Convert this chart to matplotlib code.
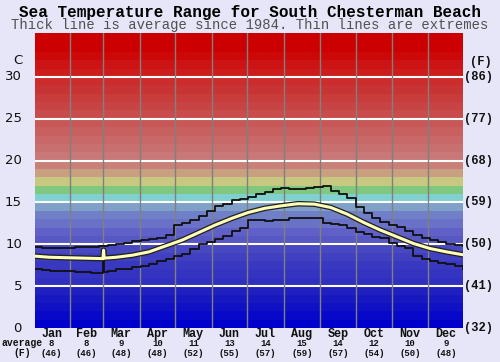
import matplotlib
matplotlib.use('Agg')
import matplotlib.pyplot as plt
import matplotlib.patheffects as pe
from matplotlib.transforms import blended_transform_factory

# --- data (deg C, x = day of year) ---
months = ['Jan', 'Feb', 'Mar', 'Apr', 'May', 'Jun',
          'Jul', 'Aug', 'Sep', 'Oct', 'Nov', 'Dec']
month_avg_c = [8, 8, 9, 10, 11, 13, 14, 15, 14, 12, 10, 9]
month_avg_f = [46, 46, 48, 48, 52, 55, 57, 59, 57, 54, 50, 48]
month_len = [31, 28, 31, 30, 31, 30, 31, 31, 30, 31, 30, 31]

mean_days = [0, 14, 28, 42, 56, 59, 59.5, 60, 70, 84, 98, 112, 126, 140,
             154, 168, 182, 196, 210, 224, 238, 252, 266, 280, 294, 308,
             322, 336, 350, 364]
mean_vals = [8.6, 8.45, 8.4, 8.35, 8.3, 8.3, 9.3, 8.35, 8.45, 8.7, 9.1, 9.8,
             10.5, 11.4, 12.3, 13.1, 13.8, 14.3, 14.6, 14.85, 14.8, 14.4,
             13.6, 12.6, 11.7, 10.9, 10.1, 9.5, 9.1, 8.75]

max_days = list(range(0, 365, 7))
max_vals = [9.7, 9.5, 9.6, 9.6, 9.6, 9.7, 9.7, 9.7, 9.8, 9.9, 10.0, 10.2,
            10.4, 10.5, 10.6, 10.8, 11.1, 12.3, 12.6, 12.9, 13.4, 14.0,
            14.6, 14.8, 15.3, 15.4, 15.6, 16.0, 16.3, 16.6, 16.7, 16.6,
            16.6, 16.7, 16.8, 17.0, 16.4, 16.0, 15.5, 14.5, 13.8, 13.1,
            12.7, 12.3, 12.1, 11.6, 11.1, 10.8, 10.5, 10.3, 10.0, 9.9, 9.8]

min_days = [0, 7, 14, 21, 28, 35, 42, 49, 56, 59, 60, 63, 70, 77, 84, 91,
            98, 105, 112, 119, 126, 133, 140, 147, 154, 161, 168, 175, 182,
            189, 196, 203, 210, 217, 224, 231, 238, 245, 252, 259, 266, 273,
            280, 287, 294, 301, 308, 315, 322, 329, 336, 343, 350, 357, 364]
min_vals = [7.05, 6.9, 6.85, 6.8, 6.8, 6.7, 6.65, 6.6, 6.6, 9.1, 6.7, 6.85,
            7.0, 7.1, 7.3, 7.45, 7.6, 8.0, 8.3, 8.6, 8.9, 9.4, 10.0, 10.3,
            10.6, 11.0, 11.6, 12.0, 12.9, 12.9, 12.8, 12.9, 12.9, 13.1, 13.2,
            13.2, 13.1, 12.5, 12.4, 12.3, 11.9, 11.5, 11.2, 10.9, 10.7, 10.2,
            9.8, 9.6, 8.6, 8.2, 7.95, 7.8, 7.6, 7.4, 7.1]

c_ticks = [0, 5, 10, 15, 20, 25, 30]

# one colour per 1 degree band, 0..35
band_colors = ['#0000cc', '#0808c8', '#1010c4', '#1818c0', '#2020c0',
               '#3030c0', '#3434c0', '#3838c0', '#4040c0', '#4848c0',
               '#5858c4', '#6060c8', '#6a72c8', '#7080c8', '#80a0c8',
               '#80d0d0', '#80c880', '#c8c880', '#c8a080', '#c88078',
               '#c87878', '#c87070', '#c86868', '#c86060', '#c85858',
               '#c84c4c', '#c84444', '#c83c3c', '#c83434', '#cc2c2c',
               '#cc1c1c', '#cc1414', '#cc0808', '#cc0000', '#cc0000',
               '#cc0000']

W, H = 500, 362
bg = '#e6e6f8'
mono = 'Liberation Mono'
ink = '#111111'

fig = plt.figure(figsize=(W / 100, H / 100), dpi=100, facecolor=bg)
ax = fig.add_axes([35 / W, 1 - 328 / H, 428 / W, 295 / H])

for i, col in enumerate(band_colors):
    ax.axhspan(i, i + 1, color=col, lw=0, zorder=0)

for c in c_ticks[1:]:
    ax.axhline(c, color='white', lw=1.5, zorder=1)

starts = [sum(month_len[:i]) for i in range(12)]
for s in starts[1:]:
    ax.axvline(s, color='#808080', lw=1, zorder=1)

ax.plot(max_days, max_vals, drawstyle='steps-post', color='#101010', lw=1.3, zorder=3)
ax.plot(min_days, min_vals, drawstyle='steps-post', color='#101010', lw=1.3, zorder=3)
ax.plot(mean_days, mean_vals, color='#ffffb8', lw=2.2, zorder=4,
        path_effects=[pe.Stroke(linewidth=4.0, foreground='#202020'), pe.Normal()])

ax.set_xlim(1.4, 364)
ax.set_ylim(0, 35.25)
ax.set_xticks([])
ax.set_yticks([])
for sp in ax.spines.values():
    sp.set_visible(False)

# titles
fig.text(0.5, 1 - 12 / H, 'Sea Temperature Range for South Chesterman Beach',
         ha='center', va='center', family=mono, weight='bold', fontsize=11.5)
fig.text(0.5, 1 - 25 / H,
         'Thick line is average since 1984. Thin lines are extremes',
         ha='center', va='center', family=mono, fontsize=10, color='#505050')

# left / right axis labels
ytr = blended_transform_factory(fig.transFigure, ax.transData)
for c in c_ticks:
    ax.text(22 / W, c, str(c), transform=ytr, ha='right', va='center',
            fontsize=9.5, color=ink)
    f = round(c * 9 / 5 + 32)
    ax.text(479 / W, c, '(%d)' % f, transform=ytr, ha='center', va='center',
            family=mono, weight='bold', fontsize=8.7, color=ink)
fig.text(18 / W, 1 - 61 / H, 'C', ha='center', va='center', fontsize=9.5, color=ink)
fig.text(481 / W, 1 - 62 / H, '(F)', ha='center', va='center',
         family=mono, weight='bold', fontsize=8.7, color=ink)

# month labels and monthly averages
xtr = blended_transform_factory(ax.transData, fig.transFigure)
for i, m in enumerate(months):
    mid = starts[i] + month_len[i] / 2
    ax.text(mid, 1 - 334 / H, m, transform=xtr, ha='center', va='center',
            family=mono, weight='bold', fontsize=8.5, color=ink)
    ax.text(mid, 1 - 343.5 / H, str(month_avg_c[i]), transform=xtr, ha='center',
            va='center', family=mono, weight='bold', fontsize=6.5, color=ink)
    ax.text(mid, 1 - 353 / H, '(%d)' % month_avg_f[i], transform=xtr, ha='center',
            va='center', family=mono, weight='bold', fontsize=6.5, color=ink)
fig.text(22 / W, 1 - 343.5 / H, 'average', ha='center', va='center',
         family=mono, weight='bold', fontsize=7, color=ink)
fig.text(22 / W, 1 - 353 / H, '(F)', ha='center', va='center',
         family=mono, weight='bold', fontsize=7, color=ink)

fig.savefig('out.png', dpi=100, facecolor=bg)
